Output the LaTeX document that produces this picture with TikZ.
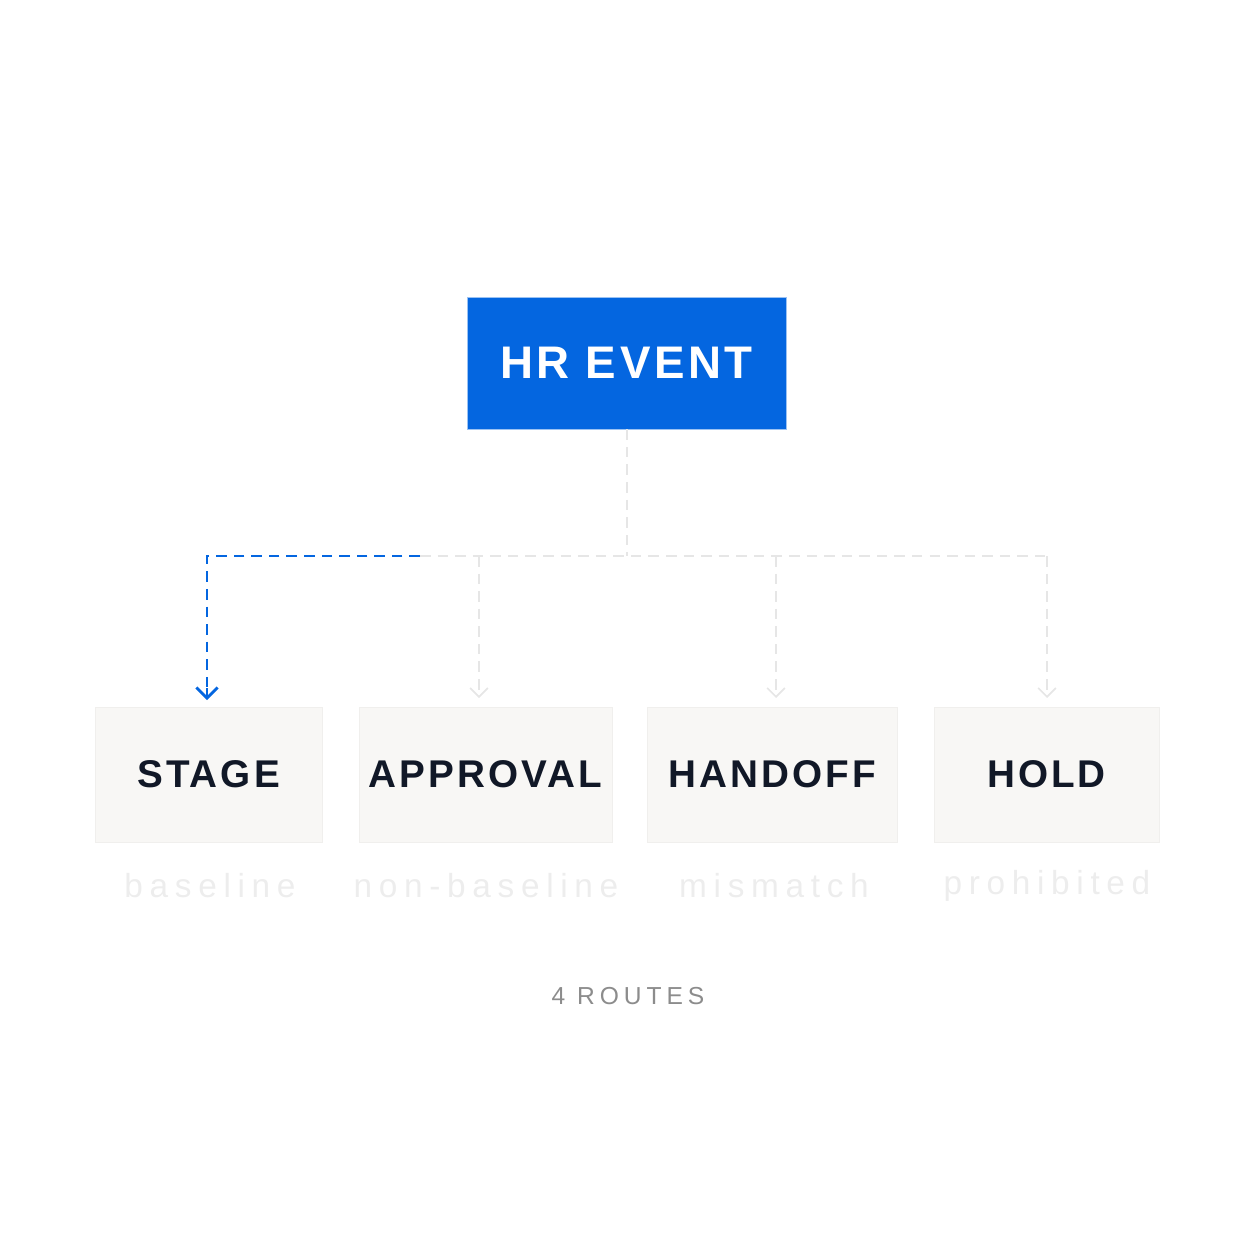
\documentclass[tikz,border=0pt]{standalone}
\usepackage{fontspec}
\setmainfont{Liberation Sans}
\newfontfamily\spaced[LetterSpace=8]{Liberation Sans}
\newfontfamily\wide[LetterSpace=20]{Liberation Sans}
\usetikzlibrary{arrows.meta}
\definecolor{hrblue}{HTML}{0466E0}
\definecolor{boxfill}{HTML}{F8F7F5}
\definecolor{boxline}{HTML}{F0EFED}
\definecolor{faint}{HTML}{E6E6E6}
\definecolor{ink}{HTML}{111827}
\begin{document}
\begin{tikzpicture}[x=0.02cm,y=-0.02cm,
  route/.style={draw=boxline,fill=boxfill,minimum height=2.7cm,font=\spaced\bfseries\fontsize{22}{26}\selectfont,text=ink},
  lbl/.style={text=faint!70,font=\wide\fontsize{19}{22}\selectfont},
  grey/.style={draw=faint,line width=1pt,dash pattern=on 6pt off 4pt},
  greyarr/.style={grey,-{Straight Barb[length=5pt,width=10pt]}},
  blue/.style={draw=hrblue,line width=1.4pt,dash pattern=on 6pt off 4pt}]
\useasboundingbox (0,0) rectangle (1254,1254);
\node[fill=hrblue,draw=hrblue!40,minimum width=6.38cm,minimum height=2.64cm,text=white,font=\spaced\bfseries\fontsize{26}{30}\selectfont] (hr) at (626.5,363) {HR EVENT};
\node[route,minimum width=4.54cm] (stage) at (208.5,774.5) {STAGE};
\node[route,minimum width=5.06cm] (appr) at (485.5,774.5) {APPROVAL};
\node[route,minimum width=5.0cm] (hand) at (772,774.5) {HANDOFF};
\node[route,minimum width=4.5cm] (hold) at (1046.5,774.5) {HOLD};
\coordinate (j) at (627,556);
\coordinate (l) at (207,556);
\coordinate (m) at (420,556);
\coordinate (r) at (1047,556);
\draw[grey] (hr.south -| j) -- (j);
\draw[grey] (m) -- (r);
\draw[greyarr] (479,556) -- (479,698);
\draw[greyarr] (776,556) -- (776,698);
\draw[greyarr] (r) -- (1047,698);
\draw[blue] (m) -- (l) -- (207,690);
\draw[hrblue,line width=1.6pt,-{Straight Barb[length=6pt,width=12pt]}] (207,688) -- (207,700);
\node[lbl] (l1) at (210,886) {baseline};
\node[lbl] (l2) at (486,886) {non-baseline};
\node[lbl] (l3) at (774,886) {mismatch};
\node[lbl] (l4) at (1047,886) {prohibited};
\node[text=black!45,font=\wide\fontsize{14}{16}\selectfont] (cnt) at (628,996) {4 ROUTES};
\end{tikzpicture}
\end{document}
